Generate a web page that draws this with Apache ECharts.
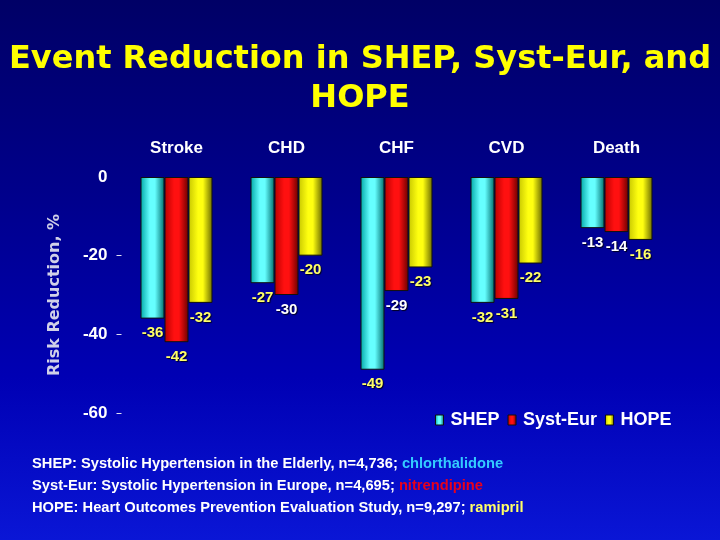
<!DOCTYPE html>
<html>
<head>
<meta charset="utf-8">
<script src="https://cdn.jsdelivr.net/npm/echarts@6/dist/echarts.min.js"></script>
<style>
html,body{margin:0;padding:0;}
#c{width:720px;height:540px;background:linear-gradient(to bottom,#000066 0%,#00008a 35%,#0000b4 70%,#0a16d6 100%);}
</style>
</head>
<body>
<div id="c"></div>
<script>
// ---- data ----
var categories = ['Stroke', 'CHD', 'CHF', 'CVD', 'Death'];
var shep = [-36, -27, -49, -32, -13];
var systEur = [-42, -30, -29, -31, -14];
var hope = [-32, -20, -23, -22, -16];
var seriesNames = ['SHEP', 'Syst-Eur', 'HOPE'];
var yTicks = [0, -20, -40, -60];
var footLines = [
  ['SHEP: Systolic Hypertension in the Elderly, n=4,736; ', 'chlorthalidone'],
  ['Syst-Eur: Systolic Hypertension in Europe, n=4,695; ', 'nitrendipine'],
  ['HOPE: Heart Outcomes Prevention Evaluation Study, n=9,297; ', 'ramipril']
];
// label colour style (white labels per series index -> data indices)
var whiteLabelIdx = [[4], [1, 2, 4], []];

var chart = echarts.init(document.getElementById('c'), null, {renderer: 'canvas'});

function grad(edgeL, mid, edgeR) {
  return new echarts.graphic.LinearGradient(0, 0, 1, 0, [
    {offset: 0, color: edgeL},
    {offset: 0.4, color: mid},
    {offset: 0.6, color: mid},
    {offset: 1, color: edgeR}
  ]);
}
var fills = [
  grad('#00a8a8', '#66ffff', '#006c6c'),
  grad('#b80000', '#ff1010', '#6a0000'),
  grad('#c8c800', '#ffff10', '#6a6a00')
];
var legendColors = fills;
var footColors = ['#33ccff', '#e8001c', '#ffff66'];

var allData = [shep, systEur, hope];
var series = allData.map(function (arr, si) {
  return {
    name: seriesNames[si],
    type: 'bar',
    barWidth: 24,
    barGap: '0%',
    data: arr.map(function (v, i) {
      var white = whiteLabelIdx[si].indexOf(i) >= 0;
      return {value: v, label: {color: white ? '#ffffff' : '#ffff66'}};
    }),
    itemStyle: {color: fills[si], borderColor: '#101010', borderWidth: 1},
    label: {
      show: true,
      position: 'bottom',
      distance: 7,
      fontFamily: 'Liberation Sans, Arial, sans-serif',
      fontWeight: 'bold',
      fontSize: 15,
      textShadowColor: 'rgba(0,0,0,0.8)',
      textShadowOffsetX: 1,
      textShadowOffsetY: 1,
      textShadowBlur: 1
    }
  };
});

var ff = 'Liberation Sans, Arial, sans-serif';
var fs = 14.7;
var footRich = {
  w: {fill: '#ffffff', fontFamily: ff, fontWeight: 'bold', fontSize: fs},
  c0: {fill: footColors[0], fontFamily: ff, fontWeight: 'bold', fontSize: fs},
  c1: {fill: footColors[1], fontFamily: ff, fontWeight: 'bold', fontSize: fs},
  c2: {fill: footColors[2], fontFamily: ff, fontWeight: 'bold', fontSize: fs}
};
var footGraphics = footLines.map(function (ln, i) {
  return {
    type: 'text',
    x: 32,
    y: 464 + i * 22,
    style: {
      text: '{w|' + ln[0] + '}{c' + i + '|' + ln[1] + '}',
      rich: footRich,
      fill: '#ffffff',
      font: 'bold ' + fs + 'px ' + ff,
      verticalAlign: 'middle',
      align: 'left'
    }
  };
});

var option = {
  backgroundColor: 'transparent',
  animation: false,
  graphic: [{
    type: 'text',
    x: 360,
    y: 79,
    style: {
      text: 'Event Reduction in SHEP, Syst-Eur, and\nHOPE',
      align: 'center',
      verticalAlign: 'middle',
      fill: '#ffff00',
      fontFamily: 'DejaVu Sans, Verdana, sans-serif',
      fontWeight: 'bold',
      fontSize: 32,
      lineHeight: 39,
      textShadowColor: 'rgba(0,0,0,0.9)',
      textShadowOffsetX: 2,
      textShadowOffsetY: 2
    }
  }].concat(footGraphics),
  legend: {
    data: seriesNames.map(function (n, i) { return {name: n, itemStyle: {color: legendColors[i], borderColor: '#101010', borderWidth: 1}}; }),
    left: 435,
    top: 411,
    padding: 0,
    itemWidth: 8,
    itemHeight: 10,
    itemGap: 8,
    icon: 'rect',
    textStyle: {
      color: '#ffffff',
      fontFamily: ff,
      fontWeight: 'bold',
      fontSize: 18,
      padding: [0, 0, 0, 2]
    }
  },
  grid: {left: 121.5, right: 48.5, top: 177, bottom: 127, containLabel: false},
  xAxis: {
    type: 'category',
    data: categories,
    position: 'top',
    axisLine: {show: false},
    axisTick: {show: false},
    axisLabel: {
      color: '#ffffff',
      fontFamily: ff,
      fontWeight: 'bold',
      fontSize: 17,
      margin: 20
    }
  },
  yAxis: {
    type: 'value',
    min: -60,
    max: 0,
    interval: 20,
    name: 'Risk Reduction, %',
    nameLocation: 'middle',
    nameGap: 59,
    nameTextStyle: {
      color: '#d0d0e8',
      fontFamily: 'DejaVu Sans, Verdana, sans-serif',
      fontWeight: 'bold',
      fontSize: 16
    },
    axisLine: {show: false},
    splitLine: {show: false},
    axisTick: {show: true, length: 5, customValues: yTicks.filter(function (v) { return v !== 0; }), lineStyle: {color: '#e0e0f0', width: 1}},
    axisLabel: {
      color: '#ffffff',
      fontFamily: ff,
      fontWeight: 'bold',
      fontSize: 17,
      margin: 14
    }
  },
  series: series
};
chart.setOption(option);
</script>
</body>
</html>
